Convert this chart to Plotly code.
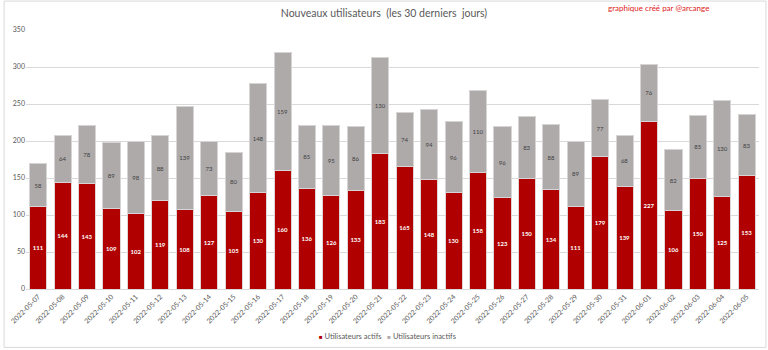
import plotly.graph_objects as go

dates = ["2022-05-07","2022-05-08","2022-05-09","2022-05-10","2022-05-11","2022-05-12","2022-05-13",
         "2022-05-14","2022-05-15","2022-05-16","2022-05-17","2022-05-18","2022-05-19","2022-05-20",
         "2022-05-21","2022-05-22","2022-05-23","2022-05-24","2022-05-25","2022-05-26","2022-05-27",
         "2022-05-28","2022-05-29","2022-05-30","2022-05-31","2022-06-01","2022-06-02","2022-06-03",
         "2022-06-04","2022-06-05"]
actifs = [111,144,143,109,102,119,108,127,105,130,160,136,126,133,183,165,148,130,158,123,150,134,111,179,139,227,106,150,125,153]
inactifs = [58,64,78,89,98,88,139,73,80,148,159,85,95,86,130,74,94,96,110,96,83,88,89,77,68,76,82,85,130,83]
series_names = ["Utilisateurs actifs", "Utilisateurs inactifs"]

FONT = "Lato, Open Sans, sans-serif"
RED = "#B00000"
GRAY = "#AEAAAA"

fig = go.Figure()
fig.add_trace(go.Bar(
    x=dates, y=actifs, name=series_names[0], showlegend=False,
    marker=dict(color=RED, line=dict(color="#E0D4D4", width=1)),
    text=actifs, textposition="inside", insidetextanchor="middle", textangle=0,
    textfont=dict(color="white", size=6, family=FONT, weight="bold"),
    constraintext="none",
))
fig.add_trace(go.Bar(
    x=dates, y=inactifs, name=series_names[1], showlegend=False,
    marker=dict(color=GRAY, line=dict(color="#D6D4D4", width=1)),
    text=inactifs, textposition="inside", insidetextanchor="middle", textangle=0,
    textfont=dict(color="#404040", size=6, family=FONT),
    constraintext="none",
))

legend_text = "&nbsp;&nbsp;&nbsp;".join(
    f"<span style='color:{c};font-size:6px'>■</span> {n}"
    for n, c in zip(series_names, [RED, GRAY])
)

fig.update_layout(
    barmode="stack", bargap=0.3,
    width=768, height=350,
    margin=dict(l=23, r=9, t=30, b=61),
    paper_bgcolor="white", plot_bgcolor="white",
    font=dict(family=FONT, color="#595959", size=7),
    title=dict(text="Nouveaux utilisateurs  (les 30 derniers  jours)", x=0.5, xanchor="center",
               y=0.962, yanchor="middle", font=dict(size=10.5, color="#595959", family=FONT)),
    showlegend=False,
    annotations=[
        dict(text="graphique créé par @arcange", xref="paper", yref="paper",
             x=0.8628, y=1.0848, xanchor="center", yanchor="middle", showarrow=False,
             font=dict(size=8, color="#E02020", family=FONT)),
        dict(text=legend_text, xref="paper", yref="paper",
             x=0.4932, y=-0.183, xanchor="center", yanchor="middle", showarrow=False,
             font=dict(size=7.5, color="#595959", family=FONT)),
    ],
    shapes=[dict(type="rect", xref="paper", yref="paper", x0=-0.0299, x1=1.0095,
                 y0=-0.2254, y1=1.1117, line=dict(color="#D9D9D9", width=1))],
)
fig.update_xaxes(type="category", tickangle=-45, showgrid=False, showline=True,
                 linecolor="#D9D9D9", ticks="", tickfont=dict(size=7, color="#595959"))
fig.update_yaxes(range=[0, 350], dtick=50, showgrid=True, gridcolor="#D9D9D9", gridwidth=1,
                 zeroline=False, showline=False, ticks="", tickfont=dict(size=7, color="#595959"))

fig.write_html("out.html")
